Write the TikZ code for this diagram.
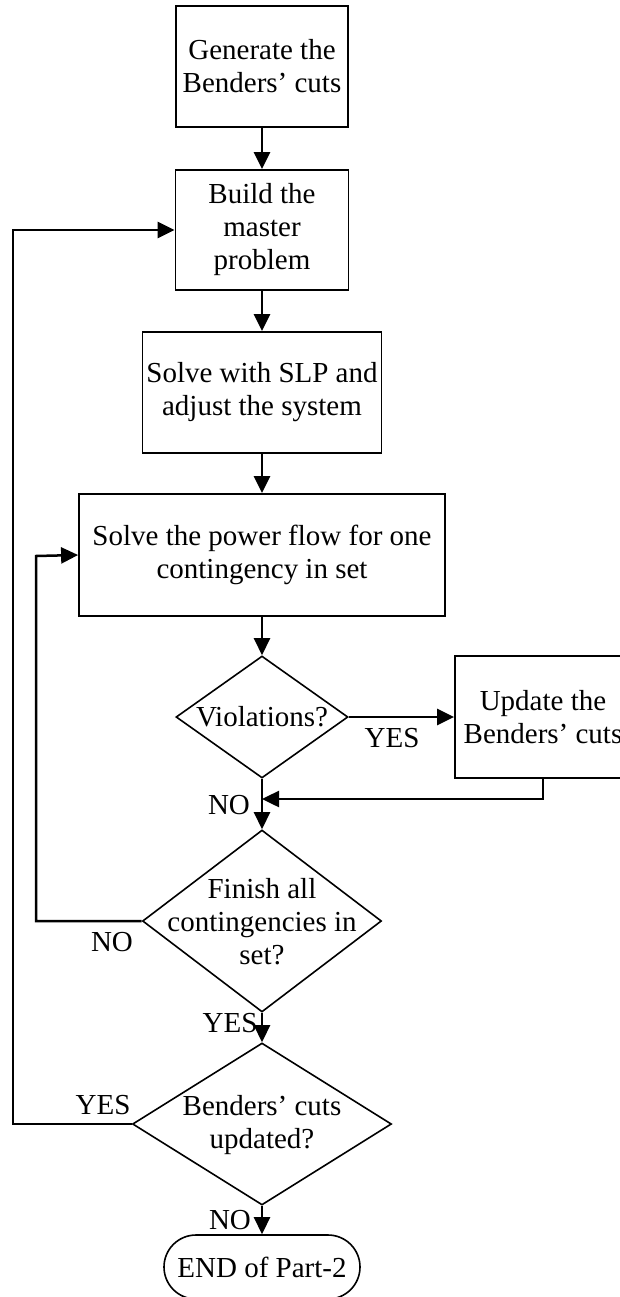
\documentclass[tikz,border=0pt]{standalone}
\usepackage{fontspec}
\setmainfont{Liberation Serif}
\usetikzlibrary{shapes.geometric,arrows.meta}
\tikzset{
  txt/.style={font=\fontsize{29}{33}\selectfont, align=center, inner sep=0pt},
  procbox/.style={draw, line width=1.8pt, rectangle, inner sep=0pt, font=\fontsize{29}{33}\selectfont, align=center},
  decide/.style={draw, line width=1.6pt, diamond, inner sep=0pt},
  termbox/.style={draw, line width=1.6pt, rectangle, rounded corners=32pt, inner sep=0pt, font=\fontsize{29}{33}\selectfont, align=center},
  conn/.style={line width=2.5pt, -{Triangle[length=17pt,width=16pt]}},
  lbl/.style={font=\fontsize{29}{33}\selectfont, inner sep=0pt}
}
\begin{document}
\begin{tikzpicture}[x=1pt,y=-1pt]
\useasboundingbox (0,0) rectangle (619,1297);
\node[procbox, minimum width=172pt, minimum height=121pt] (b1) at (262,66.5) {Generate the\\Benders' cuts};
\node[procbox, minimum width=173pt, minimum height=120pt] (b2) at (262,230) {Build the\\master\\problem};
\node[procbox, minimum width=239pt, minimum height=121pt] (b3) at (262,392.5) {Solve with SLP and\\adjust the system};
\node[procbox, minimum width=366pt, minimum height=122pt] (b4) at (262,555) {Solve the power flow for one\\contingency in set};
\node[decide, minimum width=172pt, minimum height=122pt] (d1) at (262,717) {};
\node[txt] (d1t) at (262,717) {Violations?};
\node[procbox, minimum width=176pt, minimum height=122pt] (b5) at (543,717) {Update the\\Benders' cuts};
\node[decide, minimum width=239pt, minimum height=182pt] (d2) at (262,921) {};
\node[txt] (d2t) at (262,922) {Finish all\\contingencies in\\set?};
\node[decide, minimum width=259pt, minimum height=162pt] (d3) at (262,1124) {};
\node[txt] (d3t) at (262,1125) {Benders' cuts\\updated?};
\node[termbox, minimum width=196pt, minimum height=64pt] (t1) at (262,1267) {END of Part-2};

\coordinate (m1) at (262,799);
\coordinate (c5) at (543,799);
\coordinate (l2a) at (36,921);
\coordinate (l2b) at (36,556);
\coordinate (l3a) at (13,1124);
\coordinate (l3b) at (13,230);

\draw[conn] (b1.south) -- (b2.north);
\draw[conn] (b2.south) -- (b3.north);
\draw[conn] (b3.south) -- (b4.north);
\draw[conn] (b4.south) -- (d1.north);
\draw[conn] (d1.east) -- (b5.west);
\draw[conn] (b5.south) -- (c5) -- (m1);
\draw[conn] (d1.south) -- (d2.north);
\draw[conn] (d2.west) -- (l2a) -- (l2b) -- (b4.west);
\draw[conn] (d2.south) -- (d3.north);
\draw[conn] (d3.west) -- (l3a) -- (l3b) -- (b2.west);
\draw[conn] (d3.south) -- (t1.north);

\node[lbl] (y1) at (392,738) {YES};
\node[lbl] (n1) at (229,805) {NO};
\node[lbl] (n2) at (112,942) {NO};
\node[lbl] (y2) at (230,1023) {YES};
\node[lbl] (y3) at (103,1105) {YES};
\node[lbl] (n3) at (230,1220) {NO};
\end{tikzpicture}
\end{document}
